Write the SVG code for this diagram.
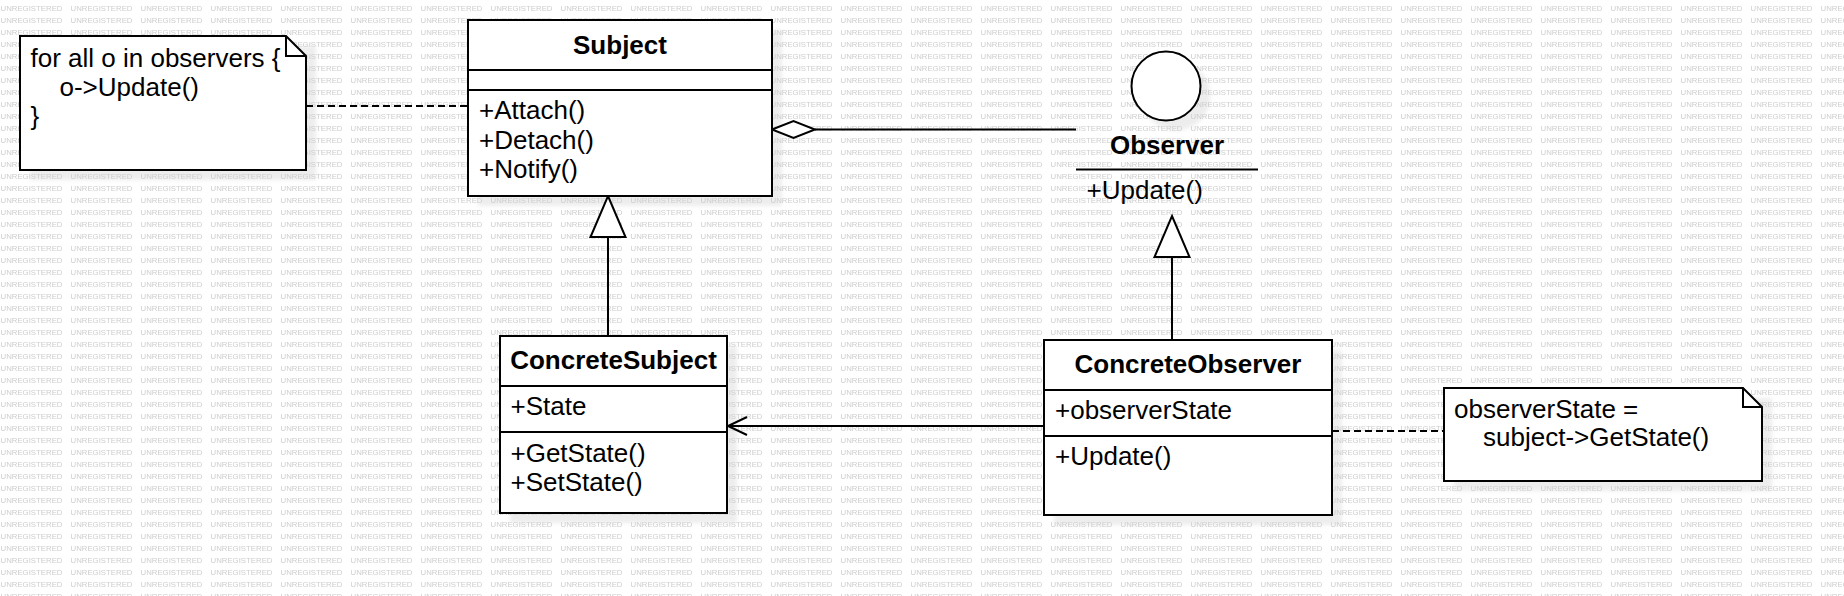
<svg xmlns="http://www.w3.org/2000/svg" width="1844" height="596" viewBox="0 0 1844 596">
<style>
.box{fill:#fff;stroke:#000;stroke-width:2}
.ln{fill:none;stroke:#000;stroke-width:2}
.dash{fill:none;stroke:#000;stroke-width:2;stroke-dasharray:7 4}
.head{fill:#fff;stroke:#000;stroke-width:2;stroke-linejoin:miter}
.t{font-family:"Liberation Sans",Arial,sans-serif;font-size:26px;fill:#000}
.b{font-weight:bold;text-anchor:middle}
.sh{fill:#000;fill-opacity:0.07;filter:url(#blur)}
.wm{font-family:"Liberation Sans",Arial,sans-serif;font-size:8px;fill:#cdcdcd}
</style>
<defs>
<filter id="blur" x="-10%" y="-10%" width="120%" height="120%"><feGaussianBlur stdDeviation="2"/></filter>
<pattern id="wmp" patternUnits="userSpaceOnUse" x="0" y="0" width="70" height="12">
<text class="wm" x="0.5" y="11" textLength="62" lengthAdjust="spacingAndGlyphs">UNREGISTERED</text>
</pattern>
</defs>
<rect x="0" y="0" width="1844" height="596" fill="#fff"/>
<g id="shadows">
<rect class="sh" x="478" y="30" width="304" height="176"/>
<rect class="sh" x="30" y="46" width="286" height="134"/>
<circle class="sh" cx="1176" cy="96" r="34.5"/>
<rect class="sh" x="510" y="346" width="227" height="177"/>
<rect class="sh" x="1054" y="350" width="288" height="175"/>
<rect class="sh" x="1454" y="398" width="318" height="93"/>
</g>
<rect x="0" y="0" width="1844" height="596" fill="url(#wmp)"/>
<g id="connectors">
<line class="dash" x1="306" y1="106" x2="468" y2="106"/>
<line class="ln" x1="815" y1="129.5" x2="1076" y2="129.5"/>
<polygon class="head" points="772,129.5 793.5,121 815,129.5 793.5,138"/>
<line class="ln" x1="608" y1="237" x2="608" y2="336"/>
<polygon class="head" points="608,196 625.5,237 590.5,237"/>
<line class="ln" x1="1172" y1="257" x2="1172" y2="340"/>
<polygon class="head" points="1172,216 1189.5,257 1154.5,257"/>
<line class="ln" x1="728" y1="426" x2="1044" y2="426"/>
<polyline class="ln" points="747,417 728,426 747,435"/>
<line class="dash" x1="1332" y1="431" x2="1444" y2="431"/>
</g>
<g id="note1">
<path class="box" d="M20,36 H286 L306,56 V170 H20 Z"/>
<path class="ln" d="M286,36 V56 H306"/>
<text class="t" x="30.5" y="67">for all o in observers {</text>
<text class="t" x="59.5" y="96">o-&gt;Update()</text>
<text class="t" x="30.5" y="125">}</text>
</g>
<g id="Subject">
<rect class="box" x="468" y="20" width="304" height="176"/>
<line class="ln" x1="468" y1="70" x2="772" y2="70"/>
<line class="ln" x1="468" y1="90" x2="772" y2="90"/>
<text class="t b" x="620" y="54">Subject</text>
<text class="t" x="479" y="119">+Attach()</text>
<text class="t" x="479" y="149">+Detach()</text>
<text class="t" x="479" y="178">+Notify()</text>
</g>
<g id="Observer">
<circle cx="1166" cy="86" r="34.5" fill="#fff" stroke="#000" stroke-width="2"/>
<text class="t b" x="1167" y="154">Observer</text>
<line class="ln" x1="1076" y1="169.5" x2="1258" y2="169.5"/>
<text class="t" x="1086.5" y="199">+Update()</text>
</g>
<g id="ConcreteSubject">
<rect class="box" x="500" y="336" width="227" height="177"/>
<line class="ln" x1="500" y1="386" x2="727" y2="386"/>
<line class="ln" x1="500" y1="432" x2="727" y2="432"/>
<text class="t b" x="613.5" y="369">ConcreteSubject</text>
<text class="t" x="510.5" y="415">+State</text>
<text class="t" x="510.5" y="462">+GetState()</text>
<text class="t" x="510.5" y="491">+SetState()</text>
</g>
<g id="ConcreteObserver">
<rect class="box" x="1044" y="340" width="288" height="175"/>
<line class="ln" x1="1044" y1="390" x2="1332" y2="390"/>
<line class="ln" x1="1044" y1="436" x2="1332" y2="436"/>
<text class="t b" x="1188" y="373">ConcreteObserver</text>
<text class="t" x="1055" y="419">+observerState</text>
<text class="t" x="1055" y="465">+Update()</text>
</g>
<g id="note2">
<path class="box" d="M1444,388 H1743 L1762,407 V481 H1444 Z"/>
<path class="ln" d="M1743,388 V407 H1762"/>
<text class="t" x="1454" y="417.5">observerState =</text>
<text class="t" x="1483" y="446">subject-&gt;GetState()</text>
</g>
</svg>
